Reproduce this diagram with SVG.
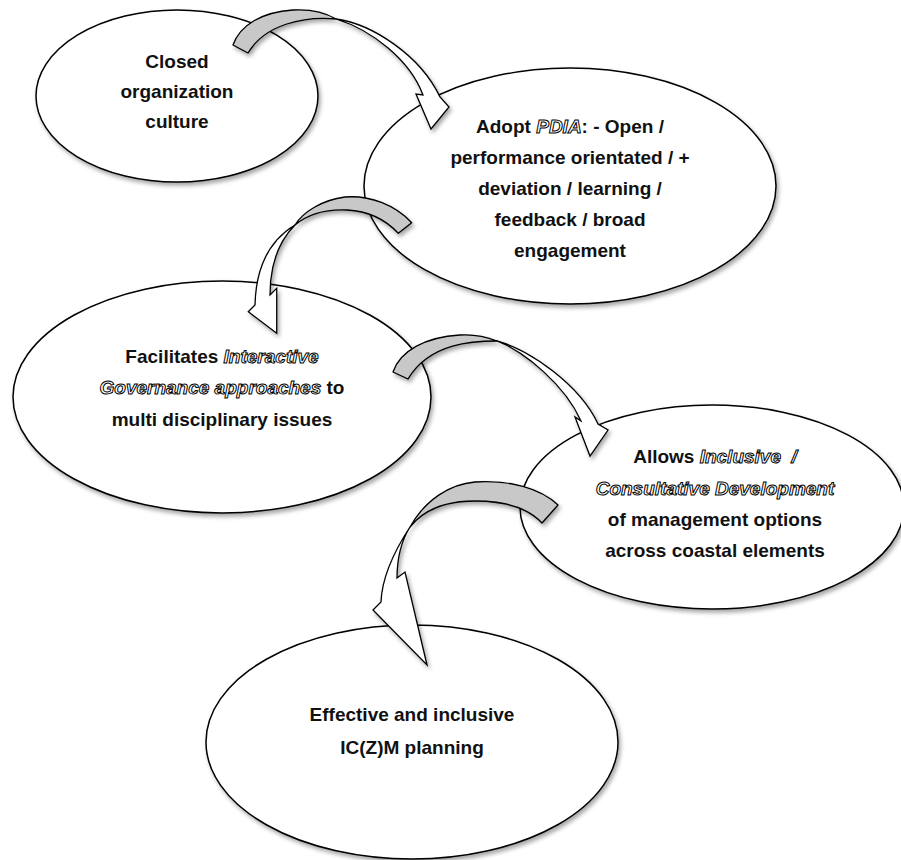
<svg xmlns="http://www.w3.org/2000/svg" width="901" height="860" viewBox="0 0 901 860">
  <defs>
    <filter id="shadow" x="-10%" y="-10%" width="120%" height="125%">
      <feDropShadow dx="2" dy="3" stdDeviation="2" flood-color="#000" flood-opacity="0.35"/>
    </filter>
  </defs>
  <style>
    .node { fill: #fff; stroke: #000; stroke-width: 1.5; filter: url(#shadow); }
    .lbl { font-family: "Liberation Sans", Arial, sans-serif; font-size: 19px; font-weight: bold; fill: #111; text-anchor: middle; }
    .hol { font-style: italic; fill: #fff; stroke: #000; stroke-width: 1; }
    .back { fill: #c8c8c8; stroke: #000; stroke-width: 1.3; stroke-linejoin: round; }
    .front { fill: #fff; stroke: #000; stroke-width: 1.3; stroke-linejoin: miter; }
    .arrow { filter: url(#shadow); }
  </style>
  <rect width="901" height="860" fill="#fff"/>

  <g id="node-closed">
    <ellipse class="node" cx="177" cy="96" rx="141" ry="86"/>
    <text class="lbl" x="177" y="68">Closed</text>
    <text class="lbl" x="177" y="98">organization</text>
    <text class="lbl" x="177" y="128">culture</text>
  </g>

  <g id="node-adopt">
    <ellipse class="node" cx="570" cy="186" rx="206" ry="118"/>
    <text class="lbl" x="570" y="133">Adopt <tspan class="hol">PDIA</tspan>: - Open /</text>
    <text class="lbl" x="570" y="164">performance orientated / +</text>
    <text class="lbl" x="570" y="195">deviation / learning /</text>
    <text class="lbl" x="570" y="226">feedback / broad</text>
    <text class="lbl" x="570" y="257">engagement</text>
  </g>

  <g id="node-facilitates">
    <ellipse class="node" cx="222" cy="397" rx="209" ry="116"/>
    <text class="lbl" x="222" y="363">Facilitates <tspan class="hol">Interactive</tspan></text>
    <text class="lbl" x="222" y="394"><tspan class="hol">Governance approaches</tspan> to</text>
    <text class="lbl" x="222" y="426">multi disciplinary issues</text>
  </g>

  <g id="node-allows">
    <ellipse class="node" cx="712" cy="507" rx="192" ry="102"/>
    <text class="lbl" x="715" y="463" style="white-space:pre">Allows <tspan class="hol">Inclusive  /</tspan></text>
    <text class="lbl" x="715" y="495"><tspan class="hol">Consultative Development</tspan></text>
    <text class="lbl" x="715" y="526">of management options</text>
    <text class="lbl" x="715" y="557">across coastal elements</text>
  </g>

  <g id="node-effective">
    <ellipse class="node" cx="412" cy="742" rx="206" ry="117"/>
    <text class="lbl" x="412" y="721">Effective and inclusive</text>
    <text class="lbl" x="412" y="754">IC(Z)M planning</text>
  </g>

  <g id="connectors">
    <g id="arrow-1" class="arrow">
      <path class="back" d="M233,45 C240,25 262,12 293,10 C312,9 326,13 336,19 C305,16 265,24 248,53 Z"/>
      <path class="front" d="M336,19 C372,24 420,55 440,97 L449,107 L431,129 L416,94 L423,95 C410,60 372,30 336,19 Z"/>
    </g>
    <g id="arrow-2" class="arrow">
      <path class="back" d="M411.7,222.7 C395,205 370,195 345,197 C322,200 303,212 295,225 C307,215 325,209 347,210 C368,211 385,219 398.3,233.3 Z"/>
      <path class="front" d="M295,225 C270,240 256,265 255,305 L248.3,311.7 L276.7,333.3 L276.7,288.3 L270,295 C270,265 278,242 295,225 Z"/>
    </g>
    <g id="arrow-3" class="arrow">
      <path class="back" d="M393,372 C400,351 425,337 460,335 C475,334 487,337 497,341 C475,341 430,342 408,379 Z"/>
      <path class="front" d="M497,341 C530,350 580,385 598,424 L608,430 L590,456 L575,417 L581,421 C565,385 525,352 497,341 Z"/>
    </g>
    <g id="arrow-4" class="arrow">
      <path class="back" d="M558,505 C540,488 510,480 475,482 C450,484 425,500 410,527 C425,508 450,501 475,501 C505,501 528,508 542,523 Z"/>
      <path class="front" d="M410,527 C395,550 382,575 381,602 L373,610 L427,665 L405,572 L397,578 C397,560 400,543 410,527 Z"/>
    </g>
  </g>
</svg>
